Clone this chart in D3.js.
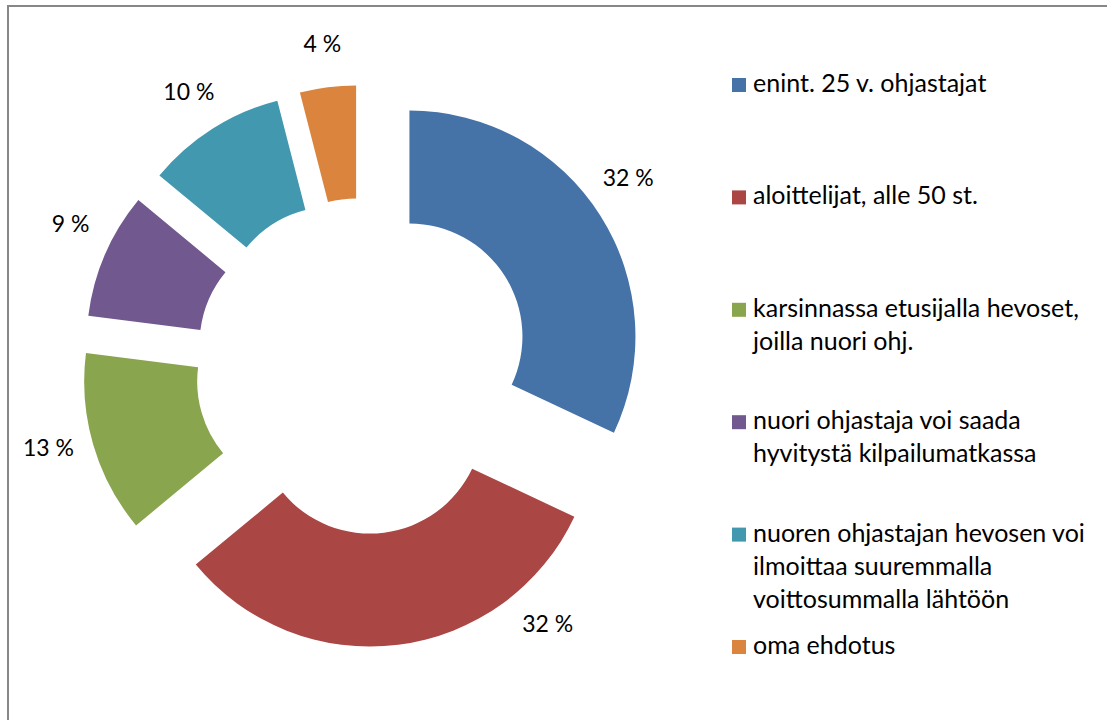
<!DOCTYPE html>
<html>
<head>
<meta charset="utf-8">
<script src="https://cdn.jsdelivr.net/npm/d3@7"></script>
<style>
  body { margin: 0; background: #fff; }
  text { font-family: Lato, "Open Sans", sans-serif; fill: #000; }
</style>
</head>
<body>
<svg></svg>
<script>
var categories = [
  "enint. 25 v. ohjastajat",
  "aloittelijat, alle 50 st.",
  "karsinnassa etusijalla hevoset, joilla nuori ohj.",
  "nuori ohjastaja voi saada hyvitystä kilpailumatkassa",
  "nuoren ohjastajan hevosen voi ilmoittaa suuremmalla voittosummalla lähtöön",
  "oma ehdotus"
];
var values = [32, 32, 13, 9, 10, 4];
// legend text as it wraps in the picture
var legendLines = [
  ["enint. 25 v. ohjastajat"],
  ["aloittelijat, alle 50 st."],
  ["karsinnassa etusijalla hevoset,", "joilla nuori ohj."],
  ["nuori ohjastaja voi saada", "hyvitystä kilpailumatkassa"],
  ["nuoren ohjastajan hevosen voi", "ilmoittaa suuremmalla", "voittosummalla lähtöön"],
  ["oma ehdotus"]
];

var colors = ["#4572A7", "#AA4643", "#89A54E", "#71588F", "#4198AF", "#DB843D"];
var labelShift = [-3.5, -34, 2, 3, 0, 0]; // degrees, label moved off the bisector

var width = 1107, height = 720;
var cx = 363, cy = 366, outerR = 226, innerR = 113, explode = 55, labelR = 270;

var svg = d3.select('svg')
  .attr('width', width)
  .attr('height', height);

svg.append('rect')
  .attr('x', 8).attr('y', 6)
  .attr('width', width + 10).attr('height', height + 10)
  .attr('fill', 'none')
  .attr('stroke', '#878787')
  .attr('stroke-width', 2);

var pie = d3.pie().sort(null).value(function(d){ return d; });
var arcs = pie(values);

var arc = d3.arc().innerRadius(innerR).outerRadius(outerR);

function offset(a, dist){
  return [Math.sin(a) * dist, -Math.cos(a) * dist];
}

var slices = svg.append('g').attr('class', 'slices')
  .attr('transform', 'translate(' + cx + ',' + cy + ')');

slices.selectAll('path')
  .data(arcs)
  .enter()
  .append('path')
  .attr('d', arc)
  .attr('fill', function(d, i){ return colors[i]; })
  .attr('transform', function(d){
    var o = offset((d.startAngle + d.endAngle) / 2, explode);
    return 'translate(' + o[0] + ',' + o[1] + ')';
  });

slices.selectAll('text')
  .data(arcs)
  .enter()
  .append('text')
  .attr('text-anchor', 'middle')
  .attr('dy', '0.35em')
  .style('font-size', '23px')
  .attr('transform', function(d, i){
    var mid = (d.startAngle + d.endAngle) / 2;
    var o = offset(mid, explode);
    var l = offset(mid + labelShift[i] * Math.PI / 180, labelR);
    return 'translate(' + (o[0] + l[0]) + ',' + (o[1] + l[1]) + ')';
  })
  .text(function(d){ return d.value + ' %'; });

// legend
var legendY = d3.scaleLinear().domain([0, categories.length - 1]).range([92, 654]);
var lineH = 33;

var legend = svg.append('g').attr('class', 'legend');
var items = legend.selectAll('g')
  .data(categories)
  .enter()
  .append('g')
  .attr('transform', function(d, i){ return 'translate(732,' + legendY(i) + ')'; });

items.append('rect')
  .attr('x', 0).attr('y', -14)
  .attr('width', 14).attr('height', 14)
  .attr('fill', function(d, i){ return colors[i]; });

items.append('text')
  .style('font-size', '25px')
  .selectAll('tspan')
  .data(function(d, i){ return legendLines[i]; })
  .enter()
  .append('tspan')
  .attr('x', 21)
  .attr('y', function(d, j){ return j * lineH; })
  .text(function(d){ return d; });
</script>
</body>
</html>
